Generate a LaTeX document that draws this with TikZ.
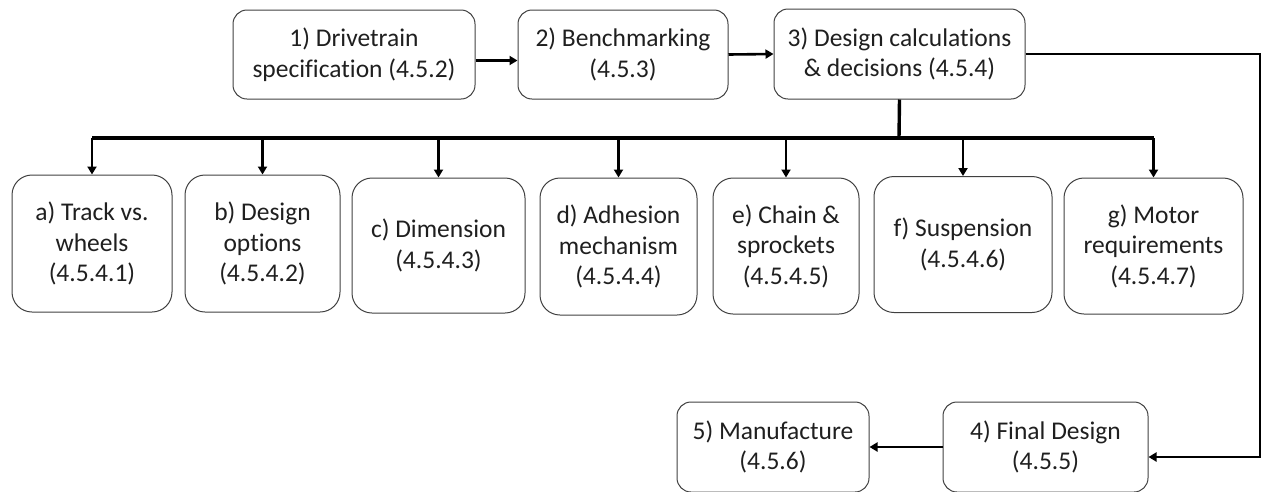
\documentclass[tikz,border=0pt]{standalone}
\usepackage{fontspec}
\setmainfont{Carlito}[Ligatures=NoCommon]
\usetikzlibrary{arrows.meta}
\definecolor{boxline}{HTML}{404040}
\definecolor{txt}{HTML}{1F1F1F}
\begin{document}
\begin{tikzpicture}[x=1pt,y=-1pt,
  box/.style={draw=boxline, line width=1pt, rounded corners=14pt, align=center,
    text=txt, font=\fontsize{25.5}{30.5}\selectfont, inner sep=0pt},
  subbox/.style={box, rounded corners=20pt},
  conn/.style={line width=2.6pt, -{Triangle[length=8pt,width=9pt]}},
  busline/.style={line width=3.4pt}]
\useasboundingbox (0,0) rectangle (1262,491);

% top row
\node[box, minimum width=242pt, minimum height=89pt] (n1) at (354,54.5) {1) Drivetrain\\specification (4.5.2)};
\node[box, minimum width=210pt, minimum height=89pt] (n2) at (623,54.5) {2) Benchmarking\\(4.5.3)};
\node[box, minimum width=251pt, minimum height=90pt] (n3) at (899.5,54) {3) Design calculations\\\& decisions (4.5.4)};

% sub-tasks of step 3
\node[subbox, minimum width=160pt, minimum height=137pt] (na) at (92,243.5) {a) Track vs.\\wheels\\(4.5.4.1)};
\node[subbox, minimum width=155pt, minimum height=137pt] (nb) at (262.5,243.5) {b) Design\\options\\(4.5.4.2)};
\node[subbox, minimum width=173pt, minimum height=135pt] (nc) at (438.5,245.5) {c) Dimension\\(4.5.4.3)};
\node[subbox, minimum width=157pt, minimum height=137pt] (nd) at (618.5,246.5) {d) Adhesion\\mechanism\\(4.5.4.4)};
\node[subbox, minimum width=146pt, minimum height=136pt] (ne) at (786,246) {e) Chain \&\\sprockets\\(4.5.4.5)};
\node[subbox, minimum width=178pt, minimum height=136pt] (nf) at (963,244.5) {f) Suspension\\(4.5.4.6)};
\node[subbox, minimum width=179pt, minimum height=136pt] (ng) at (1153.5,246) {g) Motor\\requirements\\(4.5.4.7)};

% bottom row
\node[box, minimum width=205pt, minimum height=90pt] (n4) at (1045.5,447) {4) Final Design\\(4.5.5)};
\node[box, minimum width=192pt, minimum height=90pt] (n5) at (773,447) {5) Manufacture\\(4.5.6)};

% connectors
\draw[conn] ([yshift=-6pt]n1.east) -- ([yshift=-6pt]n2.west);
\draw[conn] (n2.east) -- (n3.west);

\coordinate (bus) at (899,138);
\coordinate (rc) at (1260,54);
\draw[busline] (n3.south) -- (bus);
\draw[busline] (na.north |- bus) -- (ng.north |- bus);
\foreach \n in {na,nb,nc,nd,ne,nf,ng}
  \draw[conn] (\n.north |- bus) -- (\n.north);

\draw[conn] (n3.east) -- (rc) |- ([yshift=-10pt]n4.east);
\draw[conn] (n4.west) -- (n5.east);
\end{tikzpicture}
\end{document}
